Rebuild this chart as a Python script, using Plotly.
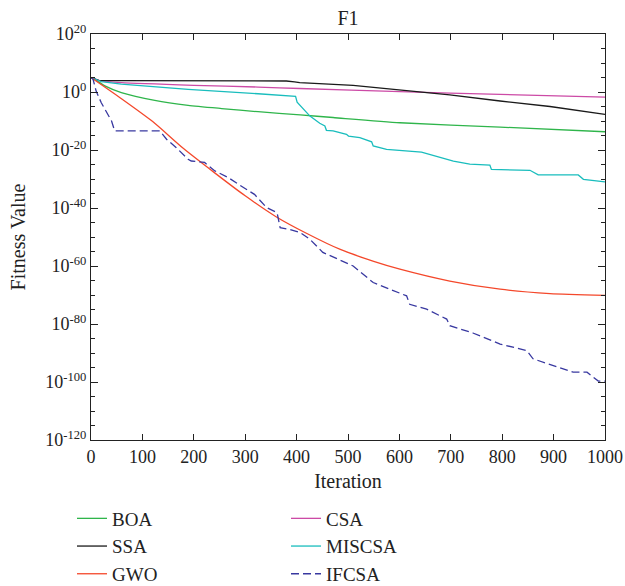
import numpy as np
import plotly.graph_objects as go

# ---- data (log10 of fitness value) ----
boa_it = [0, 10, 27, 59, 124, 189, 254, 325, 407, 471, 601, 796, 1000]
boa_lg = [5, 4.0, 2.1, -0.2, -2.9, -4.6, -5.7, -6.8, -7.9, -8.8, -10.6, -12.1, -13.7]

ssa_it = [0, 15, 50, 200, 380, 396, 406, 510, 601, 698, 796, 893, 1000]
ssa_lg = [5, 4.0, 3.9, 3.9, 3.8, 3.5, 3.2, 2.3, 0.7, -1.0, -3.1, -5.0, -7.7]

gwo_it = [0, 60, 120, 180, 240, 300, 360, 420, 485, 550, 601, 698, 796, 893, 1000]
gwo_lg = [5, -2.4, -10.2, -19.5, -27.8, -35.8, -43.0, -48.8, -54.3, -58.4, -61.1,
          -65.2, -68.0, -69.5, -70.1]

csa_it = [0, 20, 59, 200, 325, 406, 601, 796, 1000]
csa_lg = [5, 3.8, 3.2, 2.3, 1.7, 1.2, 0.1, -0.8, -1.8]

miscsa_it = [0, 20, 59, 189, 325, 398, 401, 407, 413, 426, 445, 455, 458, 471, 497, 501,
             523, 546, 549, 575, 643, 672, 705, 737, 776, 779, 854, 870, 948, 958, 1000]
miscsa_lg = [5, 3.6, 2.7, 0.9, -0.6, -1.5, -3.5, -4.6, -6.0, -8.3, -10.8, -11.7, -13.2,
             -13.4, -14.6, -15.2, -15.7, -17.2, -18.6, -19.8, -20.7, -22.1, -23.8, -24.9,
             -25.2, -26.7, -27.0, -28.6, -28.6, -30.1, -31.0]

ifcsa_it = [0, 4, 10, 20, 40, 46, 134, 147, 166, 189, 195, 221, 241, 267, 292, 318, 342,
            362, 368, 387, 407, 426, 451, 510, 549, 614, 620, 653, 692, 698, 743, 796, 848,
            860, 938, 965, 987, 1000]
ifcsa_lg = [5, 4.4, 0.3, -3.7, -10.0, -13.4, -13.4, -16.3, -19.2, -23.2, -23.8, -24.3,
            -27.2, -29.5, -32.4, -35.3, -39.9, -41.6, -46.8, -47.4, -48.5, -50.8, -55.3,
            -60.0, -65.7, -70.3, -73.2, -74.9, -78.3, -80.6, -83.1, -86.9, -89.2, -92.0,
            -96.6, -96.6, -99.7, -99.7]

y_tick_exp = [20, 0, -20, -40, -60, -80, -100, -120]
x_ticks = [0, 100, 200, 300, 400, 500, 600, 700, 800, 900, 1000]

FONT = "Liberation Serif"
INK = "#222"

series = [
    ("BOA", boa_it, boa_lg, "#2fb54b", "solid", "spline"),
    ("CSA", csa_it, csa_lg, "#cc4aa6", "solid", "spline"),
    ("SSA", ssa_it, ssa_lg, "#1a1a1a", "solid", "linear"),
    ("MISCSA", miscsa_it, miscsa_lg, "#19bdbd", "solid", "linear"),
    ("GWO", gwo_it, gwo_lg, "#f4482b", "solid", "spline"),
    ("IFCSA", ifcsa_it, ifcsa_lg, "#3838a0", "8px,4px", "linear"),
]

fig = go.Figure()
for name, xs, lg, color, dash, shape in series:
    fig.add_trace(go.Scatter(
        x=xs, y=10.0 ** np.array(lg), mode="lines", name=name,
        line=dict(color=color, width=1.3, dash=dash, shape=shape, smoothing=0.6),
    ))

axis_common = dict(
    showline=True, linecolor=INK, linewidth=1.2, mirror="ticks",
    ticks="inside", tickcolor=INK, showgrid=False, zeroline=False, automargin=False,
    tickfont=dict(family=FONT, size=18, color=INK),
)

fig.update_xaxes(
    range=[0, 1000], tickvals=x_ticks, ticklen=6, tickwidth=1.2,
    title=dict(text="Iteration", font=dict(family=FONT, size=20, color=INK), standoff=8),
    **axis_common,
)
fig.update_yaxes(
    type="log", range=[-120, 20],
    tickvals=[10.0 ** e for e in y_tick_exp],
    ticktext=["10<sup>%d</sup>" % e for e in y_tick_exp],
    ticklen=7, tickwidth=1.2,
    minor=dict(tickvals=[10.0 ** e for e in range(-120, 21, 5)], ticklen=4,
               tickcolor=INK, tickwidth=1, ticks="inside"),
    title=dict(text="Fitness Value", font=dict(family=FONT, size=20, color=INK), standoff=14),
    **axis_common,
)

fig.update_layout(
    width=625, height=586,
    margin=dict(l=91, r=20, t=34, b=146),
    paper_bgcolor="white", plot_bgcolor="white",
    title=dict(text="F1", x=0.5, xref="paper", y=1 - 18 / 586, yref="container",
               xanchor="center", yanchor="middle",
               font=dict(family=FONT, size=20, color=INK)),
    legend=dict(
        orientation="h", xref="container", yref="container",
        x=72 / 625, y=1 - 499.5 / 586, xanchor="left", yanchor="top",
        entrywidth=169, font=dict(family=FONT, size=19, color=INK),
        bgcolor="rgba(0,0,0,0)", borderwidth=0, traceorder="normal",
    ),
)

fig.write_html("out.html", config={"displayModeBar": False},
               post_script="document.body.style.margin='0px';document.body.style.overflow='hidden';")
